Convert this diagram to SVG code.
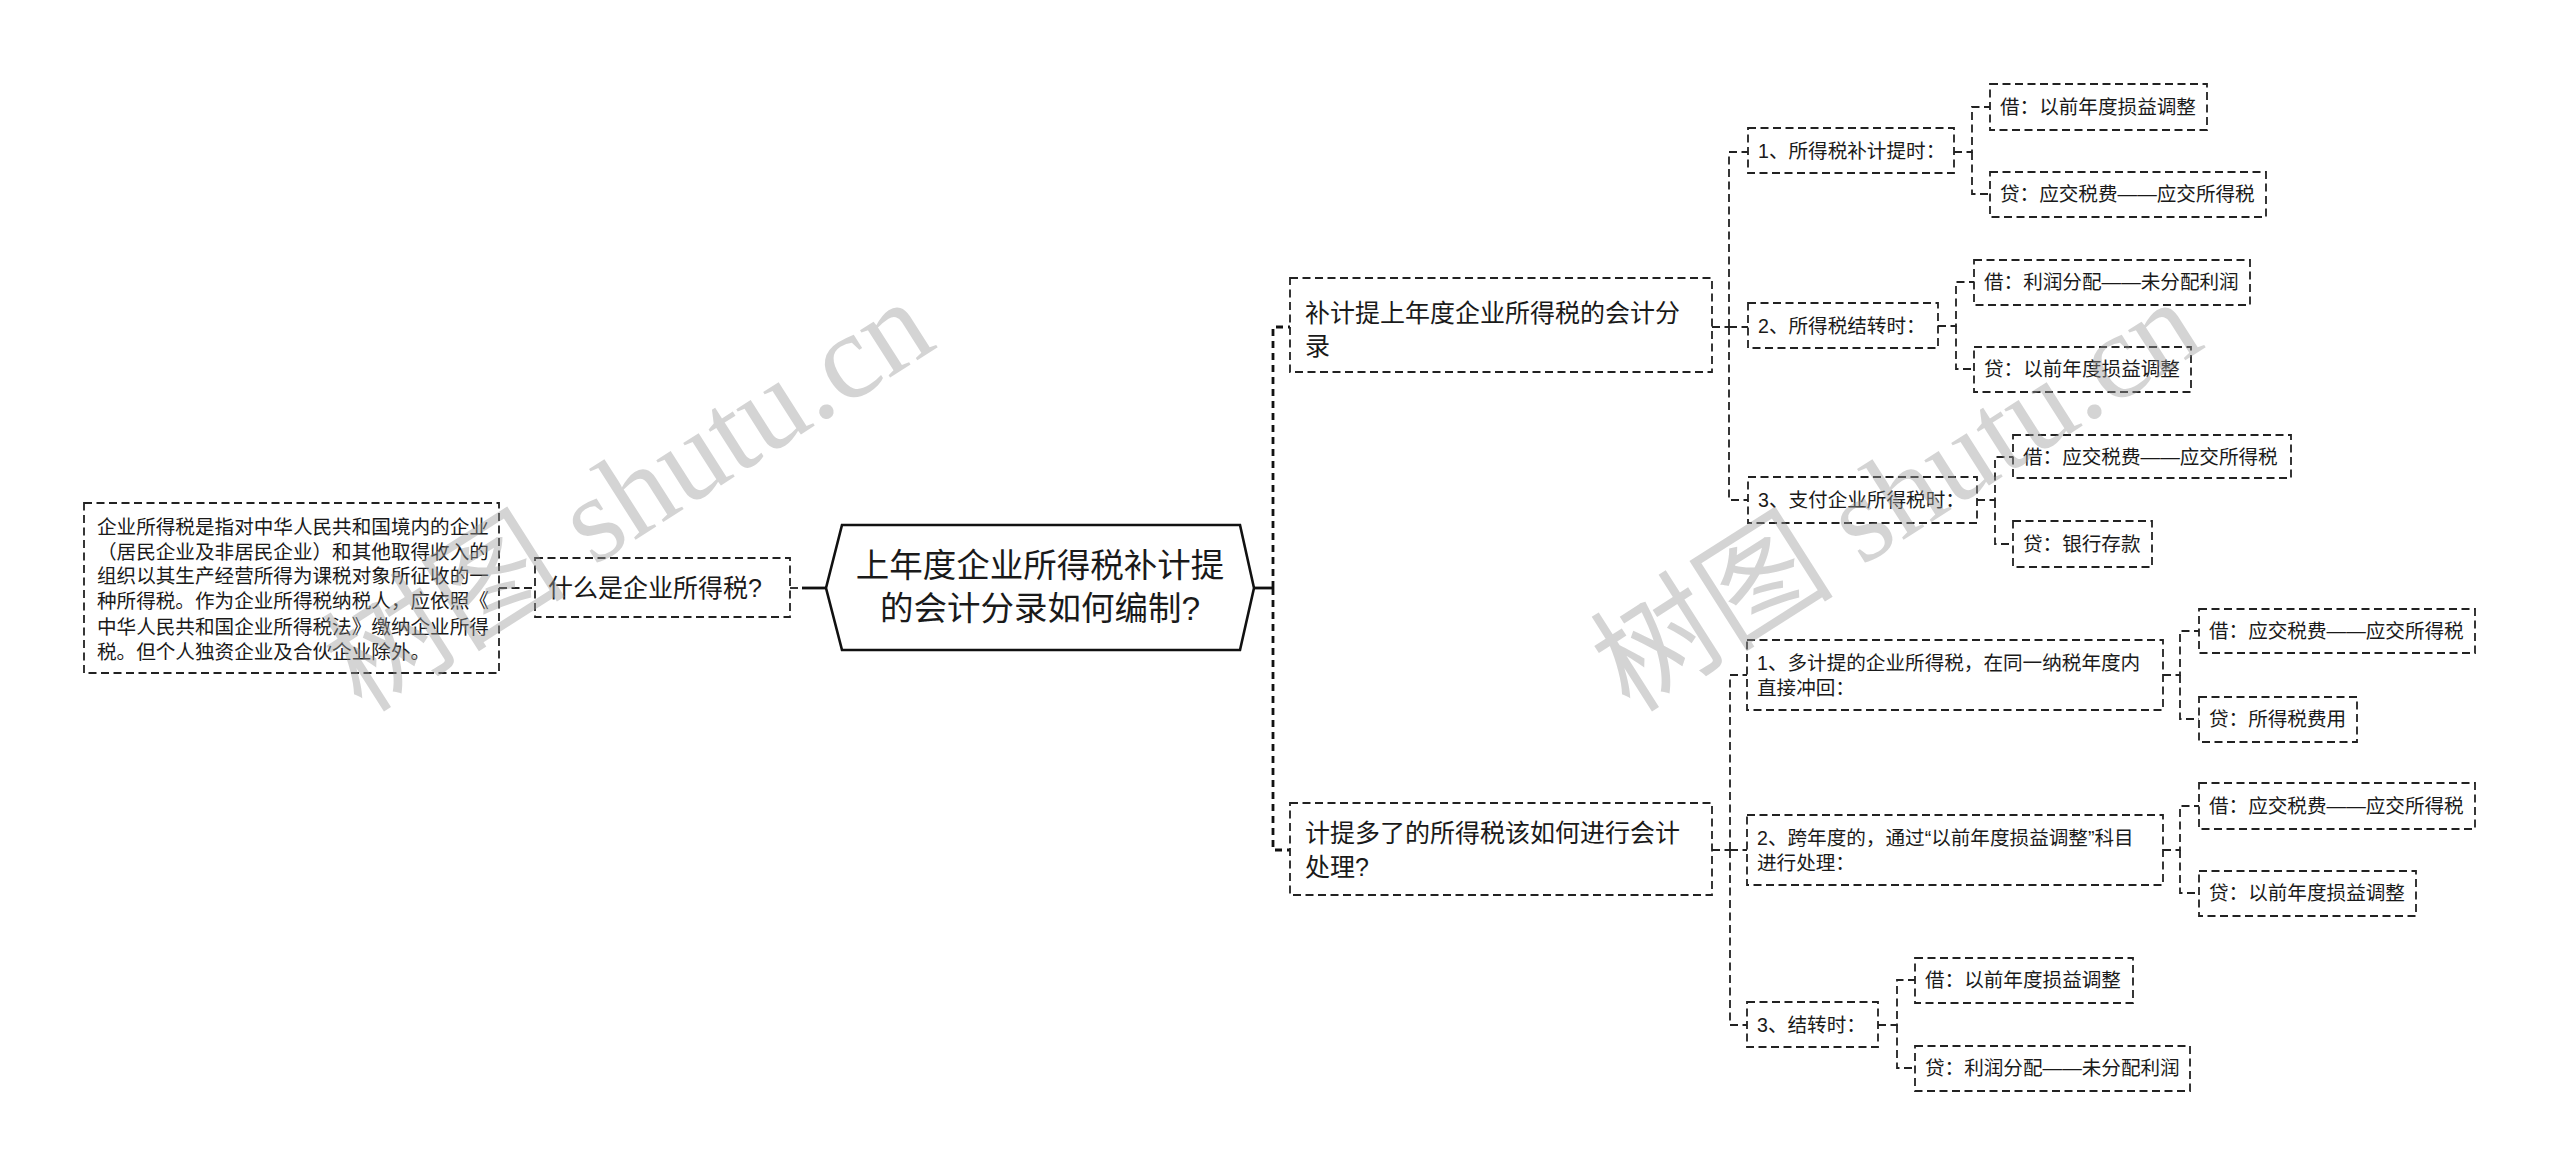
<svg xmlns="http://www.w3.org/2000/svg" width="2560" height="1176" viewBox="0 0 2560 1176">
<style>
.bg{fill:#fff}
.box{fill:#fff;stroke:#222;stroke-width:1.8;stroke-dasharray:8 4.5}
.root{fill:#fff;stroke:#111;stroke-width:2.6;stroke-linejoin:miter}
.t{font-family:"Liberation Sans","Noto Sans CJK SC",sans-serif;fill:#1a1a1a}
.s20{font-size:19.6px}
.s25{font-size:25px}
.s33{font-size:33.5px}
.conn{fill:none;stroke:#222;stroke-width:1.8;stroke-dasharray:8 4.5}
.main{fill:none;stroke:#111;stroke-width:2.8;stroke-dasharray:7 5}
.solid{fill:none;stroke:#111;stroke-width:2.8}
.wm{font-size:122px;fill:#9a9a9a;opacity:0.42}
</style>
<rect class="bg" x="0" y="0" width="2560" height="1176"/>

<g id="connectors">
  <path class="solid" d="M802,588 H826"/>
  <path class="conn" d="M790,588 H802"/>
  <path class="conn" d="M499,588 H535"/>
  <path class="solid" d="M1254,588 H1273"/>
  <path class="main" d="M1273,588 V327 H1290"/>
  <path class="main" d="M1273,588 V850 H1290"/>
  <path class="conn" d="M1712,327 H1729"/>
  <path class="conn" d="M1729,327 V152 H1748"/>
  <path class="conn" d="M1729,327 H1748"/>
  <path class="conn" d="M1729,327 V500 H1748"/>
  <path class="conn" d="M1954,152 H1972 V107 H1990"/>
  <path class="conn" d="M1972,152 V194 H1990"/>
  <path class="conn" d="M1938,326 H1956 V282 H1974"/>
  <path class="conn" d="M1956,326 V369 H1974"/>
  <path class="conn" d="M1977,500 H1995 V457 H2013"/>
  <path class="conn" d="M1995,500 V544 H2013"/>
  <path class="conn" d="M1712,850 H1730"/>
  <path class="conn" d="M1730,850 V675 H1747"/>
  <path class="conn" d="M1730,850 H1747"/>
  <path class="conn" d="M1730,850 V1025 H1747"/>
  <path class="conn" d="M2163,675 H2180 V631 H2199"/>
  <path class="conn" d="M2180,675 V719 H2199"/>
  <path class="conn" d="M2163,850 H2180 V806 H2199"/>
  <path class="conn" d="M2180,850 V893 H2199"/>
  <path class="conn" d="M1878,1025 H1897 V980 H1915"/>
  <path class="conn" d="M1897,1025 V1068 H1915"/>
</g>

<g id="root">
  <polygon class="root" points="826,588 842,525 1240,525 1254,588 1240,650 842,650"/>
  <text class="t s33" x="1040" y="577" text-anchor="middle">上年度企业所得税补计提</text>
  <text class="t s33" x="1040" y="620" text-anchor="middle">的会计分录如何编制?</text>
</g>

<g id="what">
  <rect class="box" x="535" y="558" width="255" height="59"/>
  <text class="t s25" x="548" y="597">什么是企业所得税?</text>
</g>

<g id="def">
  <rect class="box" x="84" y="503" width="415" height="170"/>
  <text class="t s20" x="97" y="534">企业所得税是指对中华人民共和国境内的企业</text>
  <text class="t s20" x="97" y="559">（居民企业及非居民企业）和其他取得收入的</text>
  <text class="t s20" x="97" y="583">组织以其生产经营所得为课税对象所征收的一</text>
  <text class="t s20" x="97" y="608">种所得税。作为企业所得税纳税人，应依照《</text>
  <text class="t s20" x="97" y="634">中华人民共和国企业所得税法》缴纳企业所得</text>
  <text class="t s20" x="97" y="659">税。但个人独资企业及合伙企业除外。</text>
</g>

<g id="b1">
  <rect class="box" x="1290" y="278" width="422" height="94"/>
  <text class="t s25" x="1305" y="322">补计提上年度企业所得税的会计分</text>
  <text class="t s25" x="1305" y="355">录</text>
</g>

<g id="b2">
  <rect class="box" x="1290" y="803" width="422" height="92"/>
  <text class="t s25" x="1305" y="842">计提多了的所得税该如何进行会计</text>
  <text class="t s25" x="1305" y="876">处理?</text>
</g>

<g id="n1">
  <rect class="box" x="1748" y="128" width="206" height="45"/>
  <text class="t s20" x="1758" y="158">1、所得税补计提时：</text>
</g>
<g id="n1a">
  <rect class="box" x="1990" y="84" width="217" height="46"/>
  <text class="t s20" x="2000" y="114">借：以前年度损益调整</text>
</g>
<g id="n1b">
  <rect class="box" x="1990" y="172" width="276" height="45"/>
  <text class="t s20" x="2000" y="201">贷：应交税费——应交所得税</text>
</g>
<g id="n2">
  <rect class="box" x="1748" y="303" width="190" height="45"/>
  <text class="t s20" x="1758" y="333">2、所得税结转时：</text>
</g>
<g id="n2a">
  <rect class="box" x="1974" y="260" width="276" height="45"/>
  <text class="t s20" x="1984" y="289">借：利润分配——未分配利润</text>
</g>
<g id="n2b">
  <rect class="box" x="1974" y="347" width="217" height="45"/>
  <text class="t s20" x="1984" y="376">贷：以前年度损益调整</text>
</g>
<g id="n3">
  <rect class="box" x="1748" y="477" width="229" height="46"/>
  <text class="t s20" x="1758" y="507">3、支付企业所得税时：</text>
</g>
<g id="n3a">
  <rect class="box" x="2013" y="435" width="278" height="43"/>
  <text class="t s20" x="2023" y="464">借：应交税费——应交所得税</text>
</g>
<g id="n3b">
  <rect class="box" x="2013" y="521" width="139" height="46"/>
  <text class="t s20" x="2023" y="551">贷：银行存款</text>
</g>

<g id="m1">
  <rect class="box" x="1747" y="640" width="416" height="70"/>
  <text class="t s20" x="1757" y="670">1、多计提的企业所得税，在同一纳税年度内</text>
  <text class="t s20" x="1757" y="695">直接冲回：</text>
</g>
<g id="m1a">
  <rect class="box" x="2199" y="609" width="276" height="44"/>
  <text class="t s20" x="2209" y="638">借：应交税费——应交所得税</text>
</g>
<g id="m1b">
  <rect class="box" x="2199" y="697" width="158" height="45"/>
  <text class="t s20" x="2209" y="726">贷：所得税费用</text>
</g>
<g id="m2">
  <rect class="box" x="1747" y="815" width="416" height="70"/>
  <text class="t s20" x="1757" y="845">2、跨年度的，通过“以前年度损益调整”科目</text>
  <text class="t s20" x="1757" y="870">进行处理：</text>
</g>
<g id="m2a">
  <rect class="box" x="2199" y="783" width="276" height="46"/>
  <text class="t s20" x="2209" y="813">借：应交税费——应交所得税</text>
</g>
<g id="m2b">
  <rect class="box" x="2199" y="871" width="217" height="45"/>
  <text class="t s20" x="2209" y="900">贷：以前年度损益调整</text>
</g>
<g id="m3">
  <rect class="box" x="1747" y="1002" width="131" height="45"/>
  <text class="t s20" x="1757" y="1032">3、结转时：</text>
</g>
<g id="m3a">
  <rect class="box" x="1915" y="958" width="218" height="45"/>
  <text class="t s20" x="1925" y="987">借：以前年度损益调整</text>
</g>
<g id="m3b">
  <rect class="box" x="1915" y="1046" width="275" height="45"/>
  <text class="t s20" x="1925" y="1075">贷：利润分配——未分配利润</text>
</g>

<g id="watermarks">
  <text class="wm" transform="translate(362,714) rotate(-32.5)"><tspan font-family="Noto Sans CJK SC, sans-serif">树图</tspan><tspan font-family="Liberation Serif, serif"> shutu.cn</tspan></text>
  <text class="wm" transform="translate(1630,714) rotate(-32.5)"><tspan font-family="Noto Sans CJK SC, sans-serif">树图</tspan><tspan font-family="Liberation Serif, serif"> shutu.cn</tspan></text>
</g>
</svg>
